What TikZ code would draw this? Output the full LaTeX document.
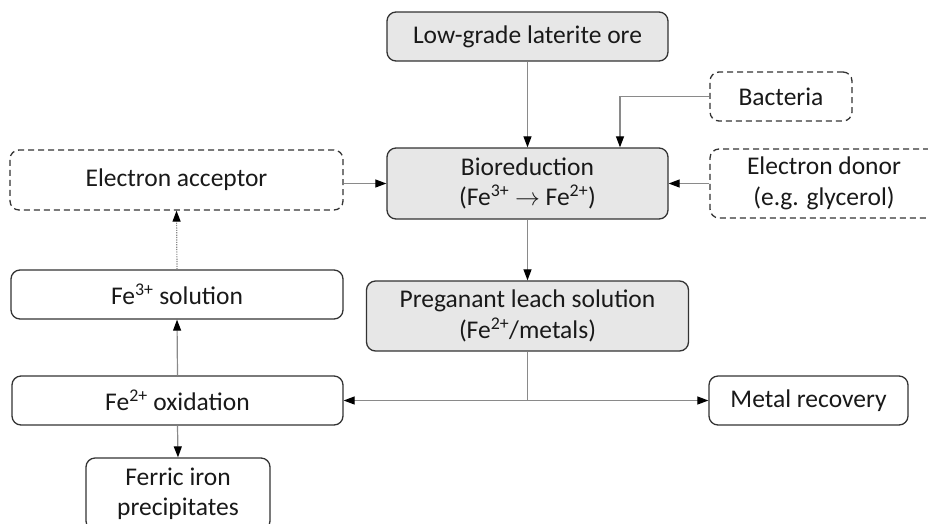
\documentclass[tikz,border=0pt]{standalone}
\usepackage{fontspec}
\setmainfont{Carlito}
\usetikzlibrary{arrows.meta}
\definecolor{boxfill}{HTML}{E7E7E7}
\definecolor{boxline}{HTML}{333333}
\definecolor{conn}{HTML}{8A8A8A}
\tikzset{
  base/.style={draw=boxline, line width=1.3pt, rounded corners=9pt, align=center,
    inner sep=2pt, font=\fontsize{25.5}{30.5}\selectfont, text=black!90},
  greybox/.style={base, fill=boxfill},
  plainbox/.style={base, fill=white},
  dashbox/.style={base, fill=white, dash pattern=on 6pt off 4pt},
  arr/.style={draw=conn, line width=1.2pt, -{Triangle[length=11pt,width=8pt,color=black]}},
  dotarr/.style={arr, dash pattern=on 1.2pt off 1.2pt},
}
\begin{document}
\begin{tikzpicture}[x=1pt,y=-1pt]
\useasboundingbox (0,0) rectangle (928,523);
\clip (0,0) rectangle (928,523);
\node[greybox, minimum width=281pt, minimum height=49pt] (ore) at (527.5,36.5) {Low-grade laterite ore};
\node[dashbox, minimum width=142pt, minimum height=49pt] (bact) at (781,96.5) {Bacteria};
\node[greybox, minimum width=281pt, minimum height=71pt] (bio) at (527.5,183.5) {Bioreduction\\(Fe\textsuperscript{3+} $\rightarrow$ Fe\textsuperscript{2+})};
\node[dashbox, minimum width=228pt, minimum height=69pt] (donor) at (824,183.5) {Electron donor\\(e.g. glycerol)};
\node[dashbox, minimum width=333pt, minimum height=60pt] (acc) at (176.5,180) {Electron acceptor};
\node[plainbox, minimum width=332pt, minimum height=49pt] (fe3) at (177,294.5) {Fe\textsuperscript{3+} solution};
\node[greybox, minimum width=322pt, minimum height=70pt] (pls) at (527.5,316) {Preganant leach solution\\(Fe\textsuperscript{2+}/metals)};
\node[plainbox, minimum width=331pt, minimum height=49pt] (ox) at (177.5,400.5) {Fe\textsuperscript{2+} oxidation};
\node[plainbox, minimum width=199pt, minimum height=49pt] (metal) at (808.5,400.5) {Metal recovery};
\node[plainbox, minimum width=184pt, minimum height=72pt] (ferric) at (178,494) {Ferric iron\\precipitates};

\draw[arr] (ore.south) -- (bio.north);
\draw[arr] (bact.west) -| ([xshift=92.5pt]bio.north);
\draw[arr] (donor.west) -- (bio.east);
\draw[arr] (acc.east |- bio.west) -- (bio.west);
\draw[arr] (bio.south) -- (pls.north);
\draw[arr] (pls.south) |- (ox.east);
\draw[arr] (pls.south) |- (metal.west);
\draw[dotarr] (fe3.north) -- (acc.south);
\draw[arr] (ox.north) -- (fe3.south);
\draw[arr] (ox.south) -- (ferric.north);
\end{tikzpicture}
\end{document}
